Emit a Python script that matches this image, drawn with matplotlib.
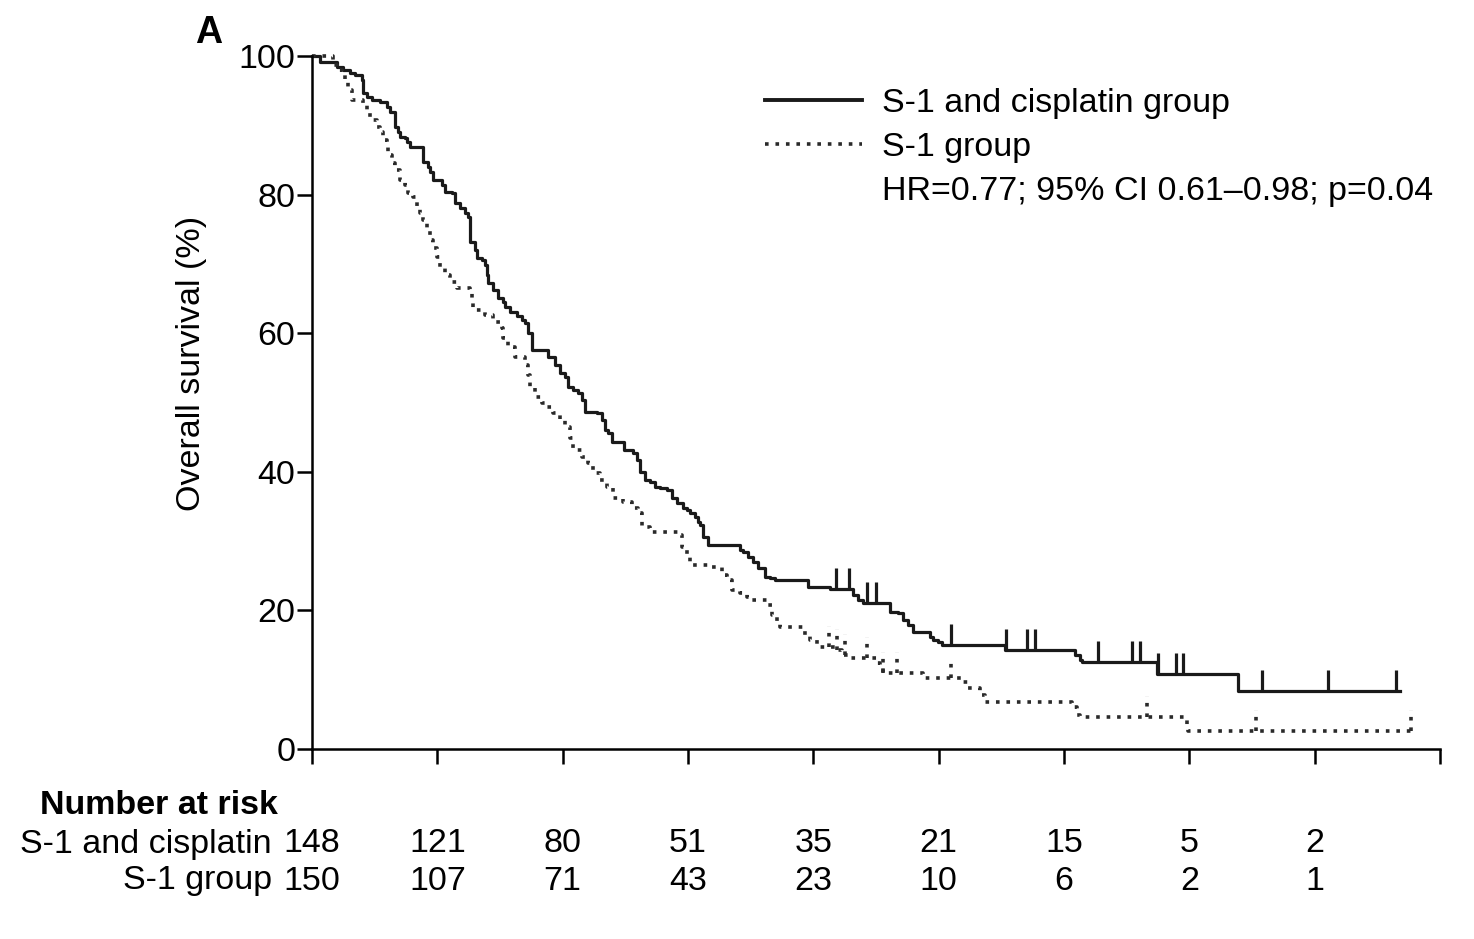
import numpy as np
import matplotlib
matplotlib.use("Agg")
import matplotlib.pyplot as plt
from matplotlib.lines import Line2D
import matplotlib.transforms as mtransforms

plt.rcParams['font.family'] = ['Liberation Sans', 'DejaVu Sans']

# ---------------- data (months, % surviving) ----------------
sc_time = [0, 0.38, 1.20, 1.48, 1.82, 2.06, 2.39, 2.44, 2.63, 2.87, 3.26, 3.59, 3.73, 3.97,
           4.12, 4.21, 4.45, 4.55, 4.69, 5.31, 5.55, 5.65, 5.79, 6.22, 6.37, 6.70, 6.85,
           7.08, 7.32, 7.47, 7.56, 7.80, 7.90, 8.14, 8.28, 8.38, 8.43, 8.66, 8.90, 9.14,
           9.24, 9.48, 9.81, 10.05, 10.20, 10.34, 10.53, 11.30, 11.63, 11.87, 12.11, 12.25,
           12.49, 12.73, 12.92, 13.07, 13.64, 13.88, 14.03, 14.17, 14.36, 14.94, 15.37,
           15.56, 15.70, 15.94, 16.18, 16.42, 16.66, 16.99, 17.23, 17.47, 17.76, 17.95,
           18.09, 18.33, 18.48, 18.57, 18.72, 18.96, 20.49, 20.63, 20.87, 21.11, 21.35,
           21.69, 21.92, 22.16, 23.74, 24.80, 25.90, 26.14, 26.38, 27.67, 28.05, 28.29,
           28.53, 28.77, 29.58, 29.73, 29.97, 30.16, 33.18, 36.53, 36.77, 36.86, 40.45,
           44.33, 52.08]
sc_surv = [100, 99.1, 98.4, 98.0, 97.6, 97.3, 96.5, 94.7, 94.1, 93.7, 93.4, 92.6, 91.9, 89.8,
           89.0, 88.3, 88.2, 87.6, 86.9, 84.7, 84.0, 83.3, 82.1, 81.4, 80.4, 80.2, 78.8,
           78.1, 77.3, 76.8, 73.2, 72.0, 70.9, 70.6, 69.8, 68.4, 67.2, 66.2, 65.1, 64.5,
           63.8, 63.1, 62.5, 61.9, 61.5, 60.0, 57.6, 56.6, 55.4, 54.3, 53.7, 52.2,
           51.8, 51.4, 50.4, 48.6, 48.5, 47.5, 46.0, 45.6, 44.3, 43.2, 42.7,
           41.7, 40.0, 38.8, 38.5, 37.8, 37.7, 37.4, 36.2, 35.5, 34.8, 34.5,
           34.1, 33.5, 32.8, 32.3, 30.6, 29.4, 28.7, 28.4, 27.7, 27.0, 26.1,
           24.8, 24.7, 24.4, 23.4, 23.1, 22.2, 21.5, 21.1, 19.8, 19.6, 18.6,
           17.9, 16.9, 16.2, 15.7, 15.4, 15.0, 14.3, 13.6, 12.8, 12.6, 10.8,
           8.4, 8.4]
sc_censor = [25.08, 25.71, 26.57, 27.00, 30.59, 33.20, 34.23, 34.61, 37.63, 39.25, 39.64,
             40.50, 41.36, 41.70, 45.48, 48.64, 51.89]

s1_time = [0, 1.01, 1.20, 1.44, 1.58, 1.72, 1.91, 2.44, 2.63, 2.87, 3.11, 3.26, 3.40, 3.59,
           3.64, 3.83, 3.97, 4.21, 4.45, 4.60, 4.83, 5.03, 5.17, 5.31, 5.51, 5.65, 5.79,
           5.98, 6.13, 6.37, 6.61, 6.94, 7.56, 7.66, 7.71, 8.28, 8.66, 9.10, 9.14, 9.38,
           9.72, 10.20, 10.34, 10.44, 10.68, 11.01, 11.25, 11.54, 11.87, 12.11, 12.35,
           12.49, 12.92, 13.21, 13.45, 13.79, 14.12, 14.41, 14.89, 15.32, 15.61, 15.80,
           16.18, 17.52, 17.71, 17.95, 18.09, 18.96, 19.63, 19.87, 20.11, 20.49, 20.82,
           21.06, 21.83, 22.02, 22.26, 22.40, 23.50, 23.84, 24.17, 25.13, 25.37, 25.75,
           27.05, 27.19, 27.33, 29.25, 31.16, 31.40, 31.98, 32.22, 36.38, 36.62, 36.77,
           41.89, 41.93, 52.61]
s1_surv = [100, 98.7, 98.0, 97.3, 96.5, 95.1, 93.7, 92.9, 91.5, 90.8, 89.8, 89.0, 87.9, 86.9,
           85.7, 84.6, 83.5, 82.1, 81.4, 80.2, 79.7, 78.2, 77.3, 76.3, 74.9, 73.4, 72.3,
           71.0, 69.6, 68.4, 67.4, 66.5, 65.9, 64.8, 63.3, 62.6, 61.6, 60.8, 59.3, 58.0,
           56.6, 55.4, 54.0, 52.1, 50.8, 49.9, 49.4, 48.5, 47.5, 46.5, 44.9,
           43.1, 42.1, 41.3, 39.8, 38.8, 37.8, 36.2, 35.6, 34.8, 34.1, 32.0,
           31.3, 30.9, 29.1, 27.7, 26.6, 26.3, 25.1, 24.4, 22.9, 22.5, 21.9,
           21.5, 20.8, 19.3, 18.2, 17.6, 16.7, 15.7, 14.7, 14.3, 13.6, 13.1,
           12.4, 11.8, 11.0, 10.2, 9.7, 8.8, 7.8, 6.8, 6.1, 4.9, 4.6,
           3.0, 2.6, 2.6]
s1_censor = [24.75, 25.13, 25.51, 26.57, 27.33, 28.00, 30.59, 39.97, 45.19, 52.61]

risk_times = [0, 6, 12, 18, 24, 30, 36, 42, 48]
risk_sc = [148, 121, 80, 51, 35, 21, 15, 5, 2]
risk_s1 = [150, 107, 71, 43, 23, 10, 6, 2, 1]
x_ticks = [0, 6, 12, 18, 24, 30, 36, 42, 48, 54]
y_ticks = [0, 20, 40, 60, 80, 100]

labels = ["S-1 and cisplatin group", "S-1 group"]
stat_text = "HR=0.77; 95% CI 0.61\u20130.98; p=0.04"
row_labels = ["S-1 and cisplatin", "S-1 group"]

# ---------------- figure ----------------
FS = 24.5
fig = plt.figure(figsize=(14.74, 9.39), dpi=100)
ax = fig.add_axes([312/1474, 1-749/939, 1128/1474, 693/939])

solid_col = '#1a1a1a'
dot_col = '#2a2a2a'
dot_ls = (0, (1, 1.9))

def level_at(times, survs, t):
    i = np.searchsorted(np.asarray(times), t, side='right') - 1
    return np.asarray(survs)[i]

ax.step(sc_time, sc_surv, where='post', color=solid_col, lw=2.3, clip_on=False)
ax.step(s1_time, s1_surv, where='post', color=dot_col, lw=2.6, ls=dot_ls, clip_on=False)

cens_h = 3.0
sc_lv = [level_at(sc_time, sc_surv, t) for t in sc_censor]
ax.vlines(sc_censor, sc_lv, np.array(sc_lv) + cens_h, color=solid_col, lw=2.3)
s1_lv = [level_at(s1_time, s1_surv, t) for t in s1_censor]
ax.vlines(s1_censor, s1_lv, np.array(s1_lv) + cens_h, color=dot_col, lw=2.6,
          linestyles=[dot_ls], clip_on=False)

ax.set_xlim(0, 54)
ax.set_ylim(0, 100)
ax.set_xticks(x_ticks)
ax.set_xticklabels([])
ax.set_yticks(y_ticks)
ax.tick_params(axis='y', labelsize=FS, length=11, width=1.8, pad=1)
ax.tick_params(axis='x', length=11, width=1.8, direction='out')
for side in ['top', 'right']:
    ax.spines[side].set_visible(False)
for side in ['left', 'bottom']:
    ax.spines[side].set_linewidth(1.8)
ax.spines['left'].set_bounds(0, 100)

ax.set_ylabel("Overall survival (%)", fontsize=FS)
ax.yaxis.set_label_coords((207-312)/1128, (749-363)/693)

handles = [Line2D([], [], color=solid_col, lw=2.8),
           Line2D([], [], color=dot_col, lw=2.6, ls=dot_ls),
           Line2D([], [], color='none')]
leg = ax.legend(handles, labels + [stat_text], loc='upper left',
                bbox_to_anchor=((765-312)/1128, (749-88)/693), frameon=False,
                fontsize=FS, handlelength=2.85, handletextpad=0.58,
                labelspacing=0.38, borderpad=0, borderaxespad=0)

fig.text(195/1474, 1-33/939, "A", fontsize=27, fontweight='bold', ha='left', va='center')

trans = mtransforms.blended_transform_factory(ax.transData, fig.transFigure)
fig.text(40/1474, 1-805/939, "Number at risk", fontsize=FS, fontweight='bold',
         ha='left', va='center')
for row, (lab, vals) in enumerate(zip(row_labels, [risk_sc, risk_s1])):
    yy = 1 - (844 + 37*row)/939
    fig.text(272/1474, yy, lab, fontsize=FS, ha='right', va='center')
    for t, v in zip(risk_times, vals):
        ax.text(t, yy, str(v), transform=trans, fontsize=FS, ha='center', va='center')

fig.savefig("out.png", dpi=100, facecolor='white')
